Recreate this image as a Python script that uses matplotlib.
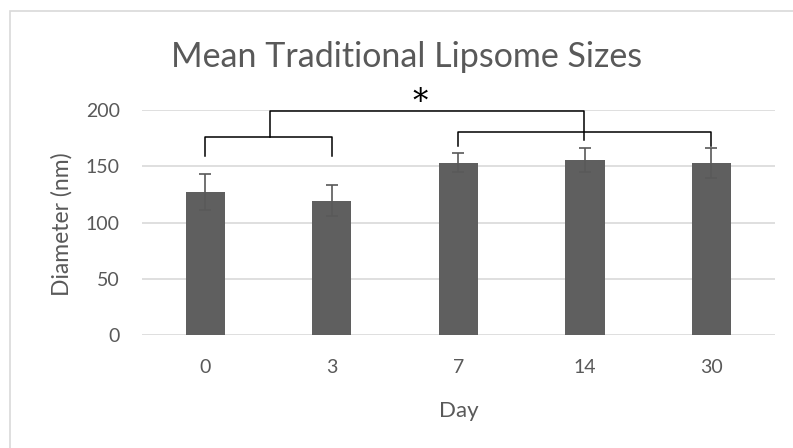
import matplotlib
matplotlib.use('Agg')
import matplotlib.pyplot as plt
from matplotlib.patches import Rectangle

days = ['0', '3', '7', '14', '30']
diameter = [127, 119.6, 153.4, 155.8, 153.4]
err = [16, 14, 8.3, 10.7, 13.3]

plt.rcParams['font.family'] = ['Lato', 'DejaVu Sans']
grey = '#595959'

fig = plt.figure(figsize=(7.93, 4.48), dpi=100)
fig.patches.append(Rectangle((10 / 793, -0.1), 1.2, 1 - 11 / 448 + 0.1,
                             transform=fig.transFigure, fill=False,
                             edgecolor='#d9d9d9', lw=1.2))
ax = fig.add_axes([0.179, 0.252, 0.798, 0.502])

x = range(len(days))
ax.bar(x, diameter, width=0.31, color='#5f5f5f', zorder=2)
ax.errorbar(x, diameter, yerr=err, fmt='none', ecolor=grey, elinewidth=1.2,
            capsize=4.5, capthick=1.2, zorder=3)

ax.set_xlim(-0.5, 4.5)
ax.set_ylim(0, 200)
ax.set_yticks([0, 50, 100, 150, 200])
ax.set_xticks(list(x))
ax.set_xticklabels(days)
ax.yaxis.grid(True, color='#d9d9d9', lw=1.2)
ax.set_axisbelow(True)
for s in ax.spines.values():
    s.set_visible(False)
ax.tick_params(length=0, labelsize=14, colors=grey)
ax.tick_params(axis='x', pad=17)
ax.tick_params(axis='y', pad=16)

ax.set_xlabel('Day', fontsize=16, color=grey)
ax.xaxis.set_label_coords(0.5, -0.295)
ax.set_ylabel('Diameter (nm)', fontsize=16.5, color=grey)
ax.yaxis.set_label_coords(-0.109, 0.494)
fig.text(0.513, 1 - 57 / 448, 'Mean Traditional Lipsome Sizes', ha='center',
         va='center', fontsize=24.5, color=grey)

# significance brackets
kw = dict(color='black', lw=1.1, clip_on=False, zorder=4)
ax.plot([0, 0, 1, 1], [159, 176, 176, 159], **kw)
ax.plot([2, 2, 4, 4], [168, 180.5, 180.5, 168], **kw)
ax.plot([0.51, 0.51, 2.99, 2.99], [176, 199, 199, 173.5], **kw)
ax.text(1.70, 207, '*', ha='center', va='center', fontsize=22,
        family='DejaVu Serif', color='black', clip_on=False)

fig.savefig('out.png', dpi=100)
